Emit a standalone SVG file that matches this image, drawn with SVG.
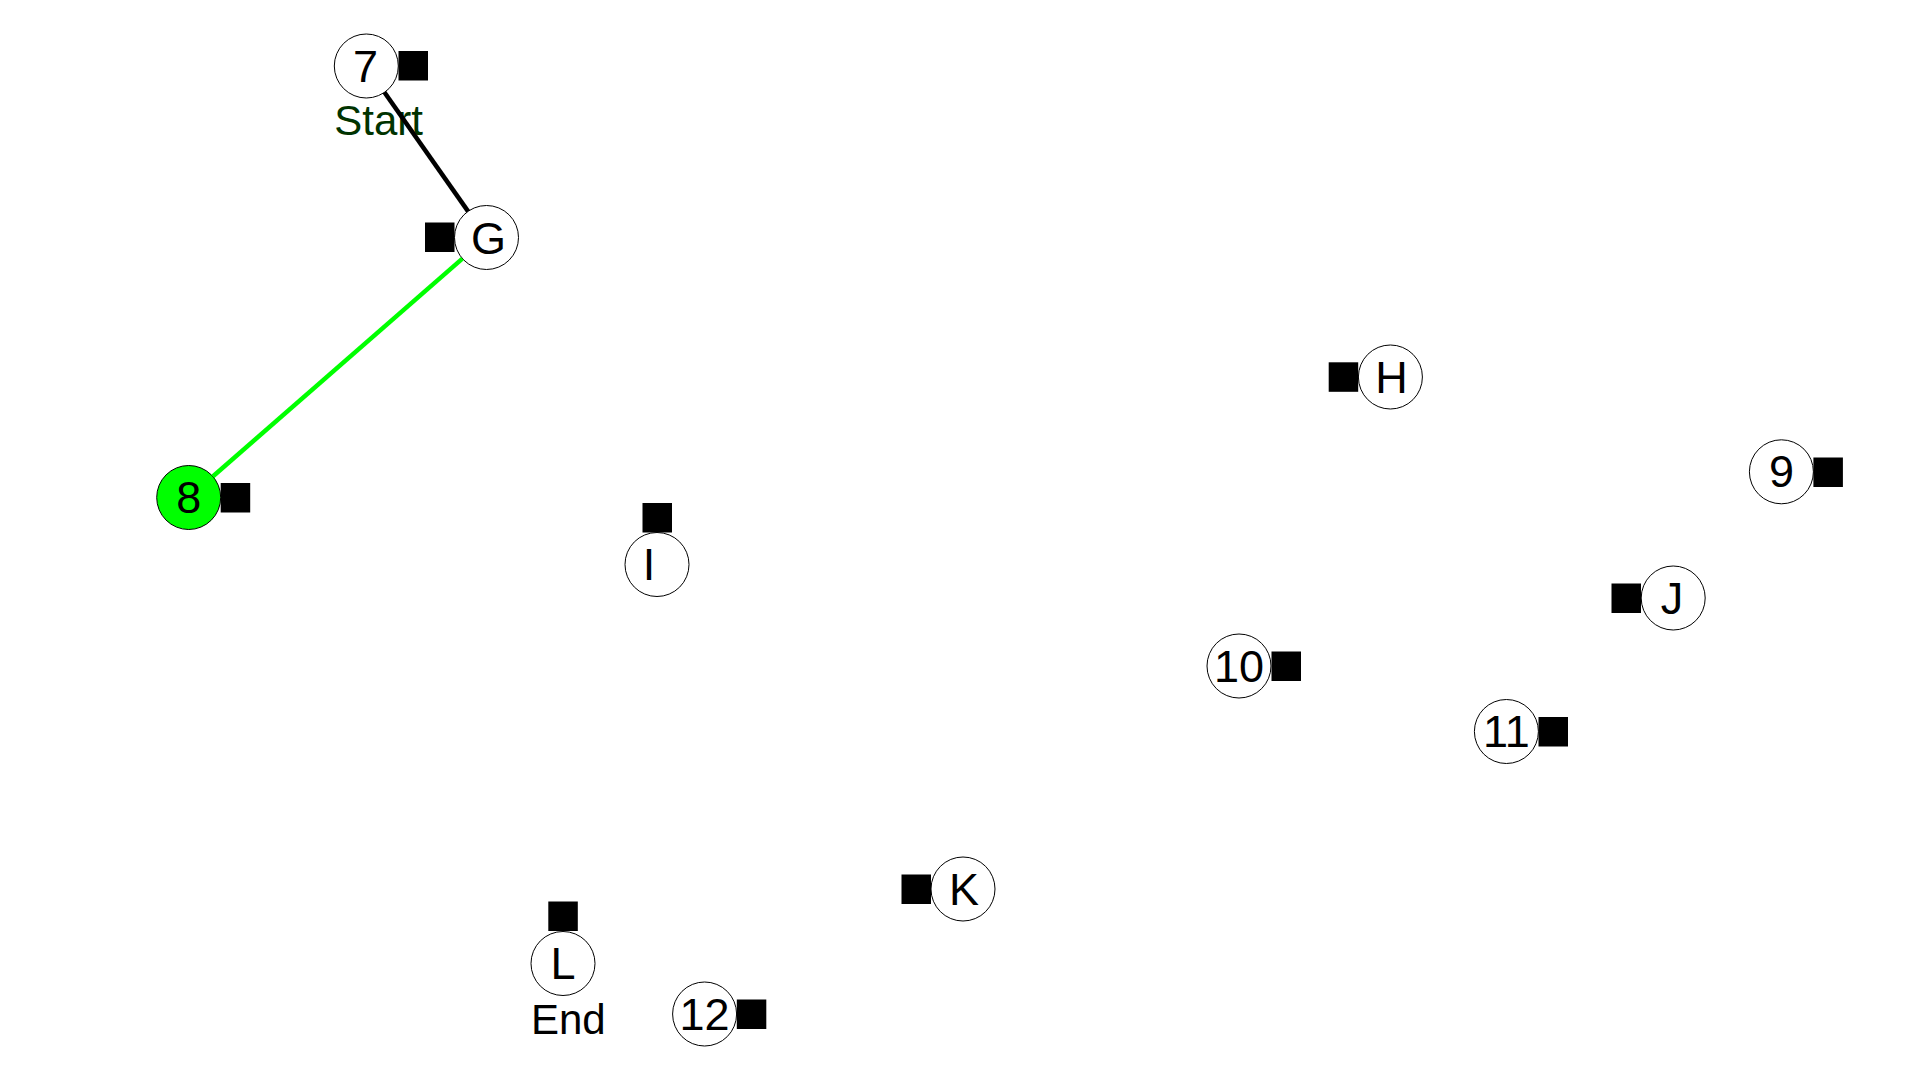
<svg xmlns="http://www.w3.org/2000/svg" width="1920" height="1080" viewBox="0 0 1920 1080">
<style>
.c{fill:#ffffff;stroke:#000000;stroke-width:1}
.g{fill:#00ff00;stroke:#000000;stroke-width:1}
.s{fill:#000000}
.t{font-family:"Liberation Sans",Arial,sans-serif;font-size:45px;fill:#000000;text-anchor:middle}
.lab{font-family:"Liberation Sans",Arial,sans-serif;font-size:42px;text-anchor:start}
.e{fill:none;stroke-width:4.5;stroke-linecap:butt}
</style>
<rect x="0" y="0" width="1920" height="1080" fill="#ffffff"/>
<g id="node-7">
<circle class="c" cx="366.3" cy="66" r="32"/>
<rect class="s" x="398.5" y="51" width="29.5" height="29.5"/>
<text class="t" x="365.5" y="81.5">7</text>
<text class="lab" x="334.3" y="135" fill="#003300">Start</text>
</g>
<g id="node-G">
<circle class="c" cx="486.5" cy="237.5" r="32"/>
<rect class="s" x="425" y="222.5" width="29.5" height="29.5"/>
<text class="t" x="488.5" y="253.5">G</text>
</g>
<g id="node-8">
<circle class="g" cx="188.7" cy="497.5" r="32"/>
<rect class="s" x="220.7" y="483" width="29.5" height="29.5"/>
<text class="t" x="188.7" y="513">8</text>
</g>
<g id="node-H">
<circle class="c" cx="1390.4" cy="377" r="32"/>
<rect class="s" x="1328.7" y="362.3" width="29.5" height="29.5"/>
<text class="t" x="1391.5" y="392.5">H</text>
</g>
<g id="node-9">
<circle class="c" cx="1781.4" cy="471.8" r="32"/>
<rect class="s" x="1813.4" y="457.5" width="29.5" height="29.5"/>
<text class="t" x="1781.4" y="487.3">9</text>
</g>
<g id="node-I">
<circle class="c" cx="657" cy="564.5" r="32"/>
<rect class="s" x="642.5" y="503" width="29.5" height="29.5"/>
<text class="t" x="649" y="580">I</text>
</g>
<g id="node-J">
<circle class="c" cx="1673.2" cy="598" r="32"/>
<rect class="s" x="1611.5" y="583.5" width="29.5" height="29.5"/>
<text class="t" x="1672" y="613.5">J</text>
</g>
<g id="node-10">
<circle class="c" cx="1239" cy="666" r="32"/>
<rect class="s" x="1271.5" y="651.5" width="29.5" height="29.5"/>
<text class="t" x="1239" y="681.5">10</text>
</g>
<g id="node-11">
<circle class="c" cx="1506.4" cy="731.5" r="32"/>
<rect class="s" x="1538.5" y="717" width="29.5" height="29.5"/>
<text class="t" x="1506.4" y="747">11</text>
</g>
<g id="node-K">
<circle class="c" cx="963" cy="889" r="32"/>
<rect class="s" x="901.5" y="874.5" width="29.5" height="29.5"/>
<text class="t" x="964" y="904.5">K</text>
</g>
<g id="node-L">
<circle class="c" cx="563" cy="963.5" r="32"/>
<rect class="s" x="548.3" y="901.5" width="29.5" height="29.5"/>
<text class="t" x="563" y="979">L</text>
<text class="lab" x="531" y="1034" fill="#000000">End</text>
</g>
<g id="node-12">
<circle class="c" cx="704.6" cy="1014" r="32"/>
<rect class="s" x="736.8" y="999.5" width="29.5" height="29.5"/>
<text class="t" x="704.6" y="1029.5">12</text>
</g>
<g id="connectors">
<line class="e" stroke="#000000" x1="384.4" y1="92.2" x2="468.1" y2="211.4"/>
<line class="e" stroke="#00ff00" x1="212.8" y1="476.5" x2="462.4" y2="258.6"/>
</g>
</svg>
